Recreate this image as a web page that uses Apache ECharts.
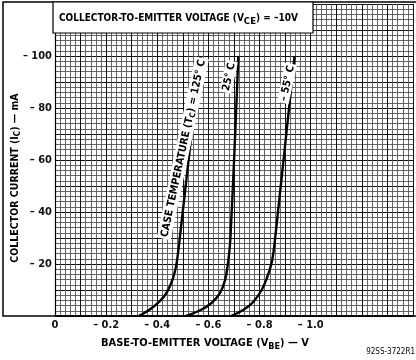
<!DOCTYPE html>
<html>
<head>
<meta charset="utf-8">
<script src="https://cdn.jsdelivr.net/npm/echarts@6/dist/echarts.min.js"></script>
<style>
html,body{margin:0;padding:0;background:#fff;}
#c{width:416px;height:360px;}
</style>
</head>
<body>
<div id="c"></div>
<script>
// Base-to-emitter voltage (V) and collector current (mA) for each case temperature
const vbe125 = [-0.328, -0.368, -0.407, -0.438, -0.463, -0.475, -0.482, -0.488, -0.527, -0.569];
const ic125  = [0, -2.3, -5.4, -9.2, -15, -20, -25, -30, -64, -100];
const vbe25  = [-0.512, -0.570, -0.612, -0.645, -0.665, -0.676, -0.682, -0.686, -0.702, -0.717];
const ic25   = [0, -2.3, -5.0, -8.8, -13.8, -20, -25, -30, -64, -100];
const vbeM55 = [-0.688, -0.736, -0.775, -0.808, -0.830, -0.846, -0.855, -0.861, -0.898, -0.937];
const icM55  = [0, -2.3, -5.4, -10, -15, -20, -25, -30, -64, -100];

// curve labels: anchor [V, mA]
const curveLabelText = ['CASE TEMPERATURE (T{s|C}) = 125° C', '25° C', '– 55° C'];
const curveLabelPos  = [[-0.500, -64.5], [-0.679, -92], [-0.907, -89.5]];

// tick labels
const xTickValues = [0, -0.2, -0.4, -0.6, -0.8, -1.0];
const xTickLabels = ['0', '– 0.2', '– 0.4', '– 0.6', '– 0.8', '– 1.0'];
const yTickValues = [-20, -40, -60, -80, -100];
const yTickLabels = ['– 20', '– 40', '– 60', '– 80', '– 100'];

const FONT = "'Liberation Sans Narrow', 'DejaVu Sans Condensed', 'Liberation Sans', sans-serif";
const INK = '#111';

function zip(a, b) { return a.map((v, i) => [v, b[i]]); }
function lookup(vals, labels, v, eps) {
  for (let i = 0; i < vals.length; i++) if (Math.abs(vals[i] - v) < eps) return labels[i];
  return '';
}

const chart = echarts.init(document.getElementById('c'), null, {renderer: 'canvas'});

const curveStyle = {color: '#000', width: 2.4};
function curve(data) {
  return {
    type: 'line', data: data, smooth: 0.4, showSymbol: false,
    lineStyle: curveStyle, silent: true, z: 5, animation: false
  };
}

chart.setOption({
  animation: false,
  backgroundColor: '#fff',
  grid: {left: 55, right: 0, top: 4, bottom: 44, containLabel: false},
  xAxis: {
    type: 'value', inverse: true, min: -1.4, max: 0, interval: 0.1,
    axisLine: {show: true, onZero: false, lineStyle: {color: '#000', width: 1.5}},
    axisTick: {show: false},
    axisLabel: {
      show: true, margin: 4, fontFamily: FONT, fontWeight: 'bold', fontSize: 11, color: INK,
      showMinLabel: true, showMaxLabel: true,
      formatter: v => lookup(xTickValues, xTickLabels, v, 1e-6)
    },
    splitLine: {show: true, lineStyle: {color: '#111', width: 1}},
    minorTick: {show: false, splitNumber: 5},
    minorSplitLine: {show: true, lineStyle: {color: '#555', width: 0.9}}
  },
  yAxis: {
    type: 'value', inverse: true, min: -120, max: 0, interval: 10,
    axisLine: {show: true, onZero: false, lineStyle: {color: '#000', width: 1.2}},
    axisTick: {show: false},
    axisLabel: {
      show: true, margin: 3, fontFamily: FONT, fontWeight: 'bold', fontSize: 11, color: INK,
      formatter: v => lookup(yTickValues, yTickLabels, v, 1e-6)
    },
    splitLine: {show: true, lineStyle: {color: '#111', width: 1}},
    minorTick: {show: false, splitNumber: 5},
    minorSplitLine: {show: true, lineStyle: {color: '#555', width: 0.9}}
  },
  series: [
    curve(zip(vbe125, ic125)),
    curve(zip(vbe25, ic25)),
    curve(zip(vbeM55, icM55)),
    {
      type: 'scatter', symbolSize: 1, silent: true, z: 10,
      itemStyle: {opacity: 1, color: 'rgba(0,0,0,0)'},
      data: curveLabelPos.map((p, i) => ({value: p, name: curveLabelText[i]})),
      label: {
        show: true, position: 'inside', rotate: 78, opacity: 1,
        formatter: p => p.name,
        fontFamily: FONT, fontWeight: 'bold', fontSize: 10.5, color: '#000',
        backgroundColor: '#fff', padding: [1, 2, 0, 2],
        rich: {s: {fontFamily: FONT, fontWeight: 'bold', fontSize: 8, color: '#000', padding: [5, 0, 0, 0]}}
      }
    }
  ],
  graphic: [
    {type: 'rect', z: 50, shape: {x: 3, y: 2, width: 430, height: 314},
     style: {fill: 'none', stroke: '#000', lineWidth: 1.5}},
    {type: 'rect', z: 60, shape: {x: 53, y: 2, width: 260, height: 31},
     style: {fill: '#fff', stroke: '#000', lineWidth: 1.2}},
    {type: 'text', z: 61, x: 59, y: 18,
     style: {
       text: '{a|COLLECTOR-TO-EMITTER VOLTAGE (V}{s|CE}{a|) = –10V}',
       verticalAlign: 'middle',
       rich: {
         a: {fontFamily: FONT, fontWeight: 'bold', fontSize: 10, fill: '#000'},
         s: {fontFamily: FONT, fontWeight: 'bold', fontSize: 9.5, fill: '#000', padding: [8, 0, 0, 0]}
       }
     }},
    {type: 'text', z: 61, x: 15, y: 178, rotation: Math.PI / 2,
     style: {
       text: '{a|COLLECTOR CURRENT (I}{s|C}{a|) — mA}',
       align: 'center', verticalAlign: 'middle',
       rich: {
         a: {fontFamily: FONT, fontWeight: 'bold', fontSize: 10.5, fill: '#000'},
         s: {fontFamily: FONT, fontWeight: 'bold', fontSize: 8, fill: '#000', padding: [6, 0, 0, 0]}
       }
     }},
    {type: 'text', z: 61, x: 205, y: 343,
     style: {
       text: '{a|BASE-TO-EMITTER VOLTAGE (V}{s|BE}{a|) — V}',
       align: 'center', verticalAlign: 'middle',
       rich: {
         a: {fontFamily: FONT, fontWeight: 'bold', fontSize: 11, fill: '#000'},
         s: {fontFamily: FONT, fontWeight: 'bold', fontSize: 9, fill: '#000', padding: [7, 0, 0, 0]}
       }
     }},
    {type: 'text', z: 61, x: 415, y: 352,
     style: {text: '92SS-3722R1', align: 'right', verticalAlign: 'middle',
             fontFamily: FONT, fontSize: 8, fill: '#000'}}
  ]
});
</script>
</body>
</html>
